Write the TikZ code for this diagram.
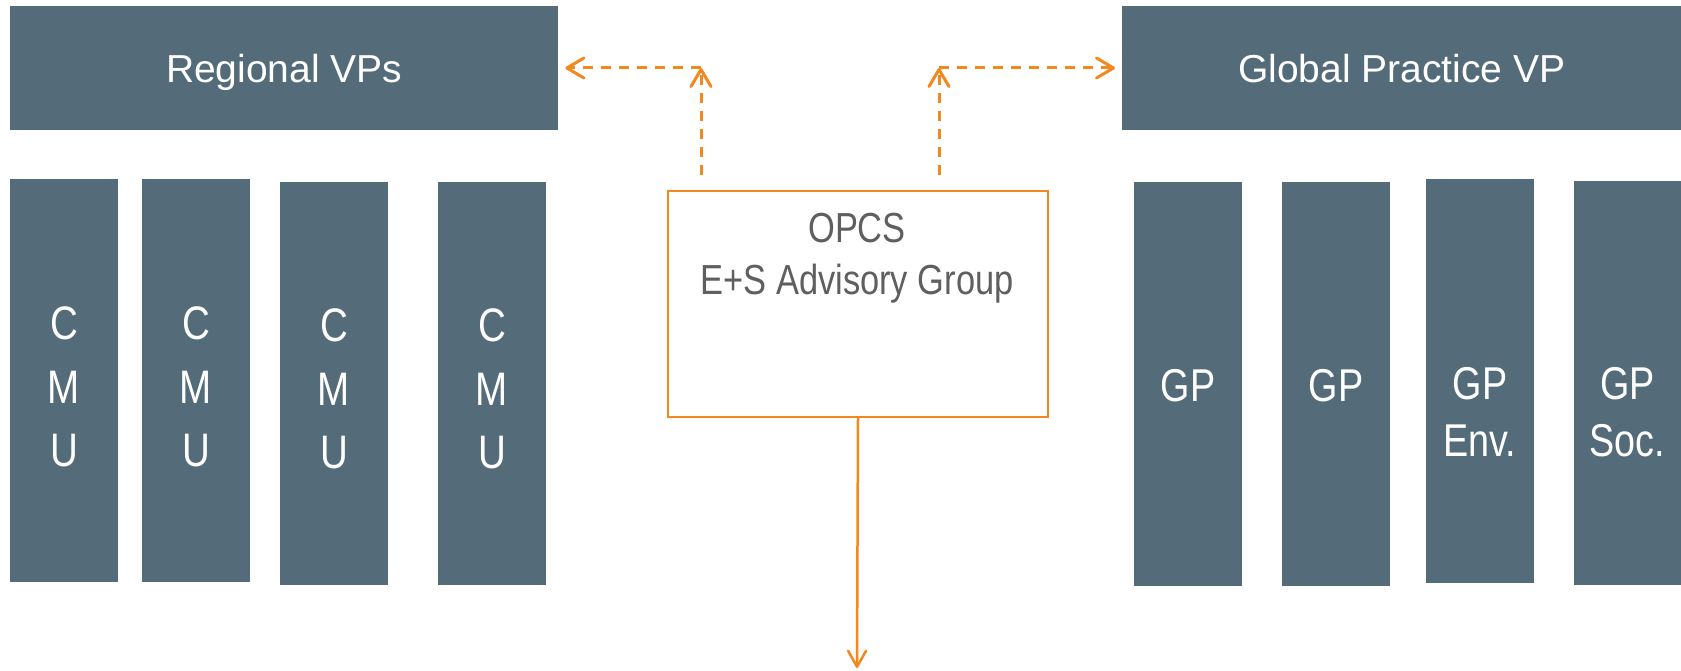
\documentclass[tikz,border=0pt]{standalone}
\usepackage{fontspec}
\setmainfont{Liberation Sans}
\newfontfamily\narrowfont{Liberation Sans}[FakeStretch=0.82]
\usetikzlibrary{arrows.meta}
\definecolor{boxfill}{RGB}{84,108,122}
\definecolor{orng}{RGB}{242,136,30}
\definecolor{txtgray}{RGB}{95,95,95}
\begin{document}
\begin{tikzpicture}[x=1pt,y=-1pt,
  topbox/.style={fill=boxfill, inner sep=0pt, minimum height=124pt, anchor=north west,
    text=white, font=\fontsize{39}{47}\selectfont, text height=28pt, text depth=0pt},
  colbox/.style={fill=boxfill, inner sep=0pt, minimum width=108pt, minimum height=403pt, anchor=north west},
  cmulbl/.style={text=white, align=center, inner sep=0pt, font=\narrowfont\fontsize{47}{63.5}\selectfont},
  gplbl/.style={text=white, align=center, inner sep=0pt, font=\narrowfont\fontsize{46}{57}\selectfont},
  opcsbox/.style={draw=orng, line width=2pt, inner sep=0pt, minimum width=380pt, minimum height=226pt, anchor=north west},
  opcslbl/.style={text=txtgray, align=center, inner sep=0pt, font=\narrowfont\fontsize{42}{52}\selectfont},
  dasharrow/.style={draw=orng, line width=3pt, dash pattern=on 10pt off 8pt,
    -{Straight Barb[length=17pt,width=20pt,line width=3pt,round]}},
  solidarrow/.style={draw=orng, line width=2.5pt,
    -{Straight Barb[length=16pt,width=18pt,line width=2.5pt,round]}}
]
\fill[white] (0,0) rectangle (1681,671);
\useasboundingbox (0,0) rectangle (1681,671);

% top boxes
\node[topbox, minimum width=548pt] (rvp) at (10,6) {Regional VPs};
\node[topbox, minimum width=559pt] (gpvp) at (1122,6) {Global Practice VP};

% CMU columns
\node[colbox] (cmu1) at (10,179) {};
\node[colbox] (cmu2) at (142,179) {};
\node[colbox] (cmu3) at (280,182) {};
\node[colbox] (cmu4) at (438,182) {};
\node[cmulbl] (cmu1t) at (64,387) {C\\M\\U};
\node[cmulbl] (cmu2t) at (196,387) {C\\M\\U};
\node[cmulbl] (cmu3t) at (334,389) {C\\M\\U};
\node[cmulbl] (cmu4t) at (492,389) {C\\M\\U};

% GP columns
\node[colbox, minimum height=404pt] (gp1) at (1134,182) {};
\node[colbox, minimum height=404pt] (gp2) at (1282,182) {};
\node[colbox, minimum height=404pt] (gp3) at (1426,179) {};
\node[colbox, minimum height=404pt, minimum width=107pt] (gp4) at (1574,181) {};
\node[gplbl] (gp1t) at (1188,386) {GP};
\node[gplbl] (gp2t) at (1336,386) {GP};
\node[gplbl] (gp3t) at (1480,411.5) {GP\\Env.};
\node[gplbl] (gp4t) at (1627.5,412) {GP\\Soc.};

% OPCS
\node[opcsbox] (opcs) at (667,190) {};
\node[opcslbl] (opcst) at (857,258) {OPCS\\E+S Advisory Group};

% dashed connectors
\coordinate (la) at (701,175);
\coordinate (lc) at (701,68);
\coordinate (ra) at (939,175);
\coordinate (rc) at (939,68);
\draw[dasharrow] (la) -- (lc);
\draw[dasharrow, shorten >=7pt] (lc) -- (lc -| rvp.east);
\draw[dasharrow] (ra) -- (rc);
\draw[dasharrow, shorten >=7pt] (rc) -- (rc -| gpvp.west);

% solid arrow down
\coordinate (dend) at (857,668);
\draw[solidarrow] (opcs.south) -- (dend);
\end{tikzpicture}
\end{document}
